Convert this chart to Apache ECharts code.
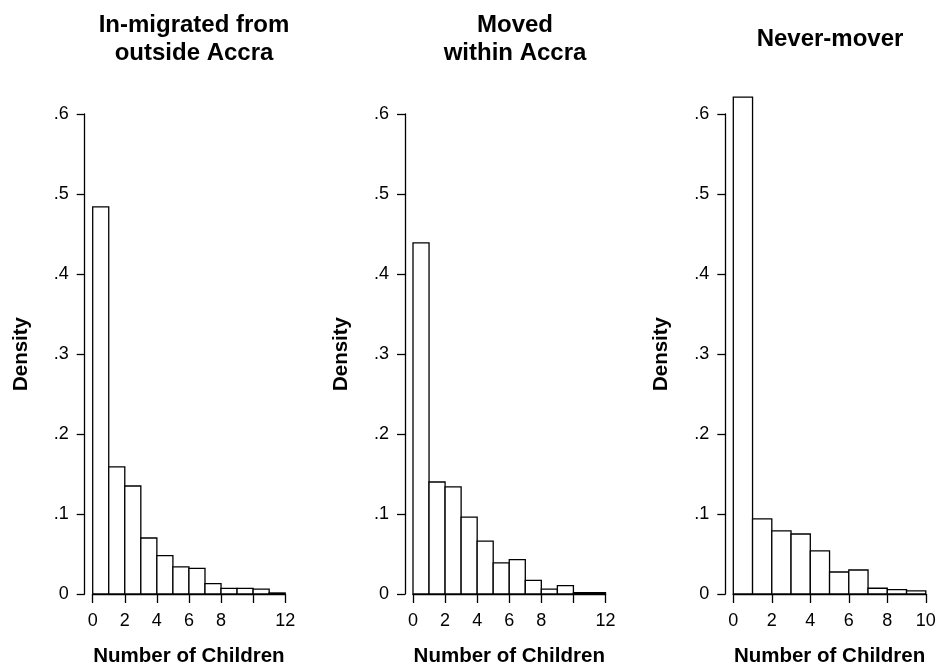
<!DOCTYPE html>
<html>
<head>
<meta charset="utf-8">
<title>Number of Children by migration status</title>
<script src="https://cdn.jsdelivr.net/npm/echarts@6/dist/echarts.min.js"></script>
<style>
  html, body { margin: 0; padding: 0; background: #fff; }
  #chart { width: 943px; height: 672px; }
</style>
</head>
<body>
<div id="chart"></div>
<script>
// Histogram densities, one bin per number of children (bin i spans [i, i+1))
var inMigrated  = [0.484, 0.159, 0.135, 0.070, 0.048, 0.034, 0.032, 0.013, 0.007, 0.007, 0.006, 0.0013];
var movedWithin = [0.439, 0.140, 0.134, 0.096, 0.066, 0.039, 0.043, 0.017, 0.006, 0.0105, 0.0017, 0.0017];
var neverMover  = [0.621, 0.094, 0.079, 0.075, 0.054, 0.0275, 0.030, 0.0072, 0.0055, 0.0038];

var panelTitles = ['In-migrated from\noutside Accra', 'Moved\nwithin Accra', 'Never-mover'];
var xMax = [12, 12, 10];
var xHiddenLabels = [[10], [10], []];
var binWidth = 1;

var FONT = '"Liberation Sans", Arial, Helvetica, sans-serif';
var seriesData = [inMigrated, movedWithin, neverMover];

var gridLeft = [92.7, 413, 733.3];
var gridWidth = 192.5;
var titleCenter = [194, 515, 830];

function yLabel(v) {
  var s = (Math.round(v * 10) / 10).toFixed(1);
  if (s === '0.0') return '0';
  return s.replace(/^0\./, '.');
}

function histItems(values) {
  return values.map(function (d, i) {
    return [i * binWidth, (i + 1) * binWidth, d];
  });
}

function renderBin(params, api) {
  var p0 = api.coord([api.value(0), api.value(2)]);
  var p1 = api.coord([api.value(1), 0]);
  return {
    type: 'rect',
    shape: { x: p0[0], y: p0[1], width: p1[0] - p0[0], height: p1[1] - p0[1] },
    style: { fill: '#ffffff', stroke: '#000000', lineWidth: 1.3 }
  };
}

var option = {
  animation: false,
  backgroundColor: '#ffffff',
  textStyle: { fontFamily: FONT },
  title: [], grid: [], xAxis: [], yAxis: [], series: []
};

for (var k = 0; k < 3; k++) {
  var lines = panelTitles[k].split('\n').length;
  option.title.push({
    text: panelTitles[k],
    left: titleCenter[k],
    textAlign: 'center',
    top: 39 - lines * 14,
    padding: 0,
    textStyle: { fontFamily: FONT, fontSize: 24, fontWeight: 'bold', color: '#000', lineHeight: 28 }
  });
  option.grid.push({ left: gridLeft[k], width: gridWidth, top: 114, height: 480, containLabel: false });
  (function (hidden) {
    option.xAxis.push({
      type: 'value', gridIndex: k, min: 0, max: xMax[k], interval: 2,
      name: 'Number of Children', nameLocation: 'middle', nameGap: 52,
      nameTextStyle: { fontFamily: FONT, fontSize: 20.5, fontWeight: 'bold', color: '#000' },
      axisLine: { show: true, onZero: false, lineStyle: { color: '#000', width: 1.3 } },
      axisTick: { show: true, length: 9, lineStyle: { color: '#000', width: 1.3 } },
      axisLabel: {
        margin: 18, fontFamily: FONT, fontSize: 18, color: '#000',
        formatter: function (v) { return hidden.indexOf(v) >= 0 ? '' : String(v); }
      },
      splitLine: { show: false }
    });
  })(xHiddenLabels[k]);
  option.yAxis.push({
    type: 'value', gridIndex: k, min: 0, max: 0.6, interval: 0.1, offset: 8,
    name: 'Density', nameLocation: 'middle', nameGap: 53, nameRotate: 90,
    nameTextStyle: { fontFamily: FONT, fontSize: 20.5, fontWeight: 'bold', color: '#000' },
    axisLine: { show: true, onZero: false, lineStyle: { color: '#000', width: 1.3 } },
    axisTick: { show: true, length: 8, lineStyle: { color: '#000', width: 1.3 } },
    axisLabel: { margin: 16, fontFamily: FONT, fontSize: 18, color: '#000', formatter: yLabel },
    splitLine: { show: false }
  });
  option.series.push({
    type: 'custom', xAxisIndex: k, yAxisIndex: k, clip: false,
    renderItem: renderBin,
    encode: { x: [0, 1], y: 2 },
    data: histItems(seriesData[k])
  });
}

var chart = echarts.init(document.getElementById('chart'), null, { renderer: 'canvas' });
chart.setOption(option);
</script>
</body>
</html>
